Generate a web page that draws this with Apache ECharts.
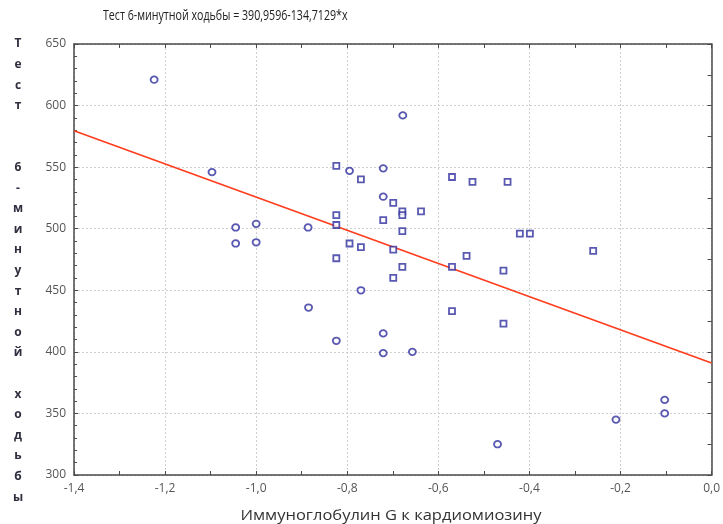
<!DOCTYPE html>
<html><head><meta charset="utf-8">
<script src="https://cdn.jsdelivr.net/npm/echarts@6/dist/echarts.min.js"></script>
<style>html,body{margin:0;padding:0;background:#fff}#c{width:723px;height:524px}</style>
</head><body><div id="c"></div>
<script>
// Data
const circlePoints = [
  [-1.224, 621], [-1.097, 546], [-1.045, 501], [-1.0, 504], [-1.045, 488], [-1.0, 489],
  [-0.886, 501], [-0.678, 592], [-0.795, 547], [-0.721, 549], [-0.721, 526],
  [-0.770, 450], [-0.885, 436], [-0.721, 415], [-0.824, 409], [-0.721, 399],
  [-0.657, 400], [-0.470, 325], [-0.103, 361], [-0.103, 350], [-0.210, 345]
];
const squarePoints = [
  [-0.824, 551], [-0.770, 540], [-0.570, 542], [-0.525, 538], [-0.448, 538],
  [-0.699, 521], [-0.679, 514], [-0.679, 511], [-0.638, 514], [-0.824, 511],
  [-0.824, 503], [-0.721, 507], [-0.679, 498], [-0.795, 488], [-0.770, 485],
  [-0.699, 483], [-0.824, 476], [-0.538, 478], [-0.699, 460], [-0.679, 469],
  [-0.570, 469], [-0.457, 466], [-0.570, 433], [-0.457, 423], [-0.421, 496],
  [-0.399, 496], [-0.260, 482]
];
const intercept = 390.9596;
const slope = -134.7129;
const xRange = [-1.4, 0.0];
const yRange = [300, 650];
const titleText = 'Тест 6-минутной ходьбы = 390,9596-134,7129*x';
const xAxisName = 'Иммуноглобулин G к кардиомиозину';
const yAxisNameChars = ['Т','е','с','т','','','6','-','м','и','н','у','т','н','о','й','','х','о','д','ь','б','ы'];

const fitLine = xRange.map(x => [x, intercept + slope * x]);
const fmt = v => (Math.round(v * 10) / 10).toFixed(1).replace('.', ',');

const chart = echarts.init(document.getElementById('c'), null, {renderer: 'canvas'});
const axisLineStyle = {color: '#4a4a4a', width: 1.5};
const markerColor = '#2f2f9e';
chart.setOption({
  animation: false,
  backgroundColor: '#fff',
  grid: {left: 74, right: 10.5, top: 44, bottom: 49, containLabel: false},
  graphic: [
    {type: 'text', x: 103, y: 9, scaleX: 0.76,
      style: {text: titleText, font: '14px "Open Sans", sans-serif', fill: '#222',
        align: 'left', verticalAlign: 'top'}},
    {type: 'text', x: 391, y: 508, scaleX: 1.1,
      style: {text: xAxisName, font: '15px "Open Sans", sans-serif', fill: '#333',
        align: 'center', verticalAlign: 'top'}},
    {type: 'text', x: 18, y: 44 - 10.3,
      style: {text: yAxisNameChars.join('\n'), font: 'bold 12px "Open Sans", sans-serif',
        fill: '#2e2e3e', lineHeight: 20.6, align: 'center', verticalAlign: 'top'}}
  ],
  xAxis: [
    {type: 'value', min: xRange[0], max: xRange[1], interval: 0.2, position: 'bottom',
      axisLine: {show: true, onZero: false, lineStyle: axisLineStyle},
      axisTick: {show: true, inside: true, length: 4, lineStyle: {color: '#4a4a4a'}},
      minorTick: {show: true, splitNumber: 2, length: 4, lineStyle: {color: '#4a4a4a'}},
      axisLabel: {color: '#555', fontSize: 12, fontFamily: 'Open Sans', margin: 8, formatter: fmt},
      splitLine: {show: true, lineStyle: {color: '#cfcfcf', type: [2, 2], width: 1}}},
    {type: 'value', min: xRange[0], max: xRange[1], interval: 0.1, position: 'top',
      axisLine: {show: true, onZero: false, lineStyle: axisLineStyle},
      axisTick: {show: true, inside: true, length: 4, lineStyle: {color: '#4a4a4a'}},
      axisLabel: {show: false}, splitLine: {show: false}}
  ],
  yAxis: [
    {type: 'value', min: yRange[0], max: yRange[1], interval: 50, position: 'left',
      axisLine: {show: true, onZero: false, lineStyle: axisLineStyle},
      axisTick: {show: true, inside: true, length: 4, lineStyle: {color: '#4a4a4a'}},
      minorTick: {show: true, splitNumber: 5, length: 3, lineStyle: {color: '#4a4a4a'}},
      axisLabel: {color: '#555', fontSize: 12, fontFamily: 'Open Sans', margin: 8},
      splitLine: {show: true, lineStyle: {color: '#cfcfcf', type: [2, 2], width: 1}}},
    {type: 'value', min: yRange[0], max: yRange[1], interval: 25, position: 'right',
      axisLine: {show: true, onZero: false, lineStyle: axisLineStyle},
      axisTick: {show: true, inside: true, length: 4, lineStyle: {color: '#4a4a4a'}},
      axisLabel: {show: false}, splitLine: {show: false}}
  ],
  series: [
    {type: 'line', data: fitLine, xAxisIndex: 0, yAxisIndex: 0, symbol: 'none',
      lineStyle: {color: '#ff3d1f', width: 1.8}, z: 2},
    {type: 'scatter', data: circlePoints, symbol: 'circle', symbolSize: [7, 6.5],
      itemStyle: {color: '#fff', borderColor: markerColor, borderWidth: 1.8}, z: 3},
    {type: 'scatter', data: squarePoints, symbol: 'rect', symbolSize: 6,
      itemStyle: {color: '#fff', borderColor: markerColor, borderWidth: 1.8}, z: 3}
  ]
});
</script></body></html>
